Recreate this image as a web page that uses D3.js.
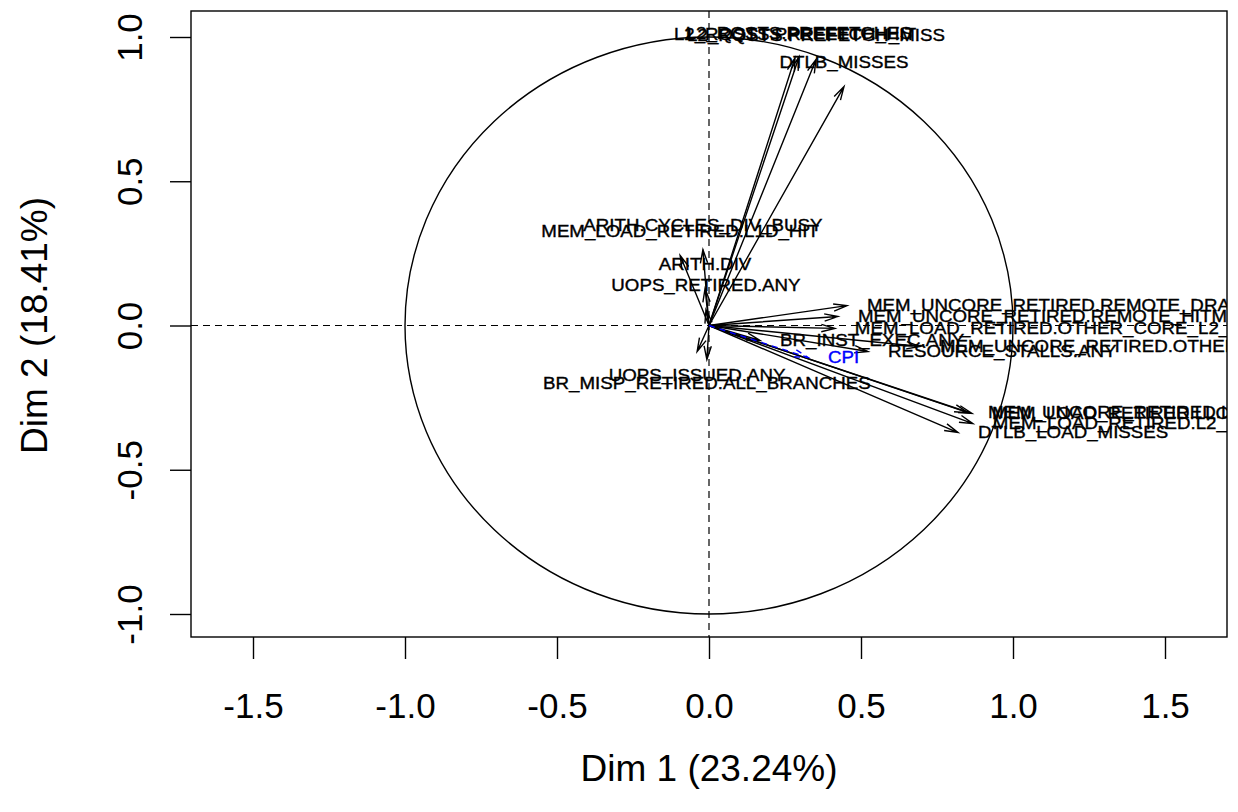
<!DOCTYPE html>
<html>
<head>
<meta charset="utf-8">
<script src="https://cdn.jsdelivr.net/npm/d3@7"></script>
<style>
  html, body { margin: 0; padding: 0; background: #fff; }
  svg { display: block; font-family: "Liberation Sans", Arial, Helvetica, sans-serif; }
</style>
</head>
<body>
<svg id="chart" width="1238" height="812"></svg>
<script>
// ---- data ----
const varNames = [
  "L2_RQSTS.PREFETCH_HIT",
  "L2_RQSTS.PREFETCHES",
  "L2_RQSTS.PREFETCH_MISS",
  "DTLB_MISSES",
  "ARITH.CYCLES_DIV_BUSY",
  "MEM_LOAD_RETIRED.L1D_HIT",
  "ARITH.DIV",
  "UOPS_RETIRED.ANY",
  "UOPS_ISSUED.ANY",
  "BR_MISP_RETIRED.ALL_BRANCHES",
  "MEM_UNCORE_RETIRED.REMOTE_DRAM",
  "MEM_UNCORE_RETIRED.REMOTE_HITM",
  "MEM_LOAD_RETIRED.OTHER_CORE_L2_HIT_HITM",
  "BR_INST_EXEC.ANY",
  "MEM_UNCORE_RETIRED.OTHER_CORE_L2_HITM",
  "RESOURCE_STALLS.ANY",
  "MEM_UNCORE_RETIRED.LOCAL_DRAM",
  "MEM_LOAD_RETIRED.LLC_MISS",
  "MEM_LOAD_RETIRED.L2_MISS",
  "DTLB_LOAD_MISSES"
];
const dim1 = [0.283, 0.296, 0.352, 0.444, -0.020, -0.095, -0.013, -0.010, -0.039, -0.007,
              0.454, 0.424, 0.414, 0.168, 0.694, 0.523, 0.852, 0.865, 0.868, 0.819];
const dim2 = [0.928, 0.931, 0.922, 0.828, 0.263, 0.243, 0.128, 0.055, -0.090, -0.118,
              0.069, 0.031, -0.010, -0.052, -0.073, -0.090, -0.302, -0.305, -0.340, -0.371];

const suppNames = ["CPI"];
const suppDim1 = [0.326];
const suppDim2 = [-0.111];

const xTicks = [-1.5, -1.0, -0.5, 0.0, 0.5, 1.0, 1.5];
const yTicks = [-1.0, -0.5, 0.0, 0.5, 1.0];
const xTitle = "Dim 1 (23.24%)";
const yTitle = "Dim 2 (18.41%)";

// ---- layout ----
const svg = d3.select("#chart");
const box = { left: 191, right: 1227, top: 11, bottom: 637 };
const x = d3.scaleLinear().domain([-1, 1]).range([405, 1013]);
const y = d3.scaleLinear().domain([-1, 1]).range([614, 37]);

const fmt = d => d.toFixed(1);
const tickFont = 35;
const titleFont = 37;

// clip for plot region
svg.append("defs").append("clipPath").attr("id", "plotclip")
  .append("rect")
  .attr("x", box.left).attr("y", box.top)
  .attr("width", box.right - box.left).attr("height", box.bottom - box.top);

// axes
const xAxis = svg.append("g")
  .attr("transform", `translate(0,${box.bottom})`)
  .call(d3.axisBottom(x).tickValues(xTicks).tickFormat(fmt).tickSize(22).tickSizeOuter(0));
xAxis.select(".domain").remove();
xAxis.selectAll(".tick line").attr("stroke", "#000").attr("stroke-width", 1.4);
xAxis.selectAll(".tick text")
  .attr("y", 81).attr("dy", null)
  .attr("font-size", tickFont).attr("fill", "#000")
  .attr("font-family", "Liberation Sans, Arial, sans-serif");

const yAxis = svg.append("g")
  .attr("transform", `translate(${box.left},0)`)
  .call(d3.axisLeft(y).tickValues(yTicks).tickFormat(fmt).tickSize(21).tickSizeOuter(0));
yAxis.select(".domain").remove();
yAxis.selectAll(".tick line").attr("stroke", "#000").attr("stroke-width", 1.4);
yAxis.selectAll(".tick text")
  .attr("x", null).attr("dy", null)
  .attr("text-anchor", "middle")
  .attr("transform", "translate(-49,0) rotate(-90)")
  .attr("font-size", tickFont).attr("fill", "#000")
  .attr("font-family", "Liberation Sans, Arial, sans-serif");

// axis titles
svg.append("text")
  .attr("x", x(0)).attr("y", 781)
  .attr("text-anchor", "middle")
  .attr("font-size", titleFont).attr("fill", "#000")
  .text(xTitle);
svg.append("text")
  .attr("transform", `translate(47,${y(0)}) rotate(-90)`)
  .attr("text-anchor", "middle")
  .attr("font-size", titleFont).attr("fill", "#000")
  .text(yTitle);

// plot content
const plot = svg.append("g").attr("clip-path", "url(#plotclip)");

// reference lines
plot.append("line")
  .attr("x1", box.left).attr("x2", box.right)
  .attr("y1", y(0)).attr("y2", y(0))
  .attr("stroke", "#000").attr("stroke-width", 1.2).attr("stroke-dasharray", "7,5");
plot.append("line")
  .attr("x1", x(0)).attr("x2", x(0))
  .attr("y1", box.top).attr("y2", box.bottom)
  .attr("stroke", "#000").attr("stroke-width", 1.2).attr("stroke-dasharray", "7,5");

// correlation circle
plot.append("ellipse")
  .attr("cx", x(0)).attr("cy", y(0))
  .attr("rx", x(1) - x(0)).attr("ry", y(0) - y(1))
  .attr("fill", "none").attr("stroke", "#000").attr("stroke-width", 1.4);

const vars = varNames.map((n, i) => ({ name: n, d1: dim1[i], d2: dim2[i], supp: false }));
const supps = suppNames.map((n, i) => ({ name: n, d1: suppDim1[i], d2: suppDim2[i], supp: true }));
const all = vars.concat(supps);

const headLen = 14, headAng = 15 * Math.PI / 180;
function arrowPath(d) {
  const x0 = x(0), y0 = y(0), x1 = x(d.d1), y1 = y(d.d2);
  const a = Math.atan2(y1 - y0, x1 - x0);
  const p = d3.path();
  p.moveTo(x0, y0); p.lineTo(x1, y1);
  p.moveTo(x1 - headLen * Math.cos(a - headAng), y1 - headLen * Math.sin(a - headAng));
  p.lineTo(x1, y1);
  p.lineTo(x1 - headLen * Math.cos(a + headAng), y1 - headLen * Math.sin(a + headAng));
  return p.toString();
}

plot.selectAll("path.arrow").data(all).enter().append("path")
  .attr("class", "arrow")
  .attr("d", arrowPath)
  .attr("fill", "none")
  .attr("stroke", d => d.supp ? "#0000ff" : "#000")
  .attr("stroke-width", 1.4)
  .attr("stroke-dasharray", d => d.supp ? "6,5" : null);

// label placement like FactoMineR (pos 1..4)
function posOf(d) {
  if (Math.abs(d.d1) > Math.abs(d.d2)) return d.d1 >= 0 ? 4 : 2;
  return d.d2 >= 0 ? 3 : 1;
}
const hOff = 20, vOff = 24, labelScale = 1.17;
plot.selectAll("text.lab").data(all).enter().append("text")
  .attr("class", "lab")
  .attr("font-size", 16)
  .attr("fill", d => d.supp ? "#0000ff" : "#000")
  .attr("stroke", d => d.supp ? "#0000ff" : "#000")
  .attr("stroke-width", 0.35)
  .attr("dy", "0.36em")
  .attr("text-anchor", d => { const p = posOf(d); return p === 4 ? "start" : p === 2 ? "end" : "middle"; })
  .attr("transform", d => {
    const p = posOf(d);
    let tx = x(d.d1), ty = y(d.d2);
    if (p === 4) tx += hOff;
    else if (p === 2) tx -= hOff;
    else if (p === 3) ty -= vOff;
    else ty += vOff;
    return `translate(${tx},${ty}) scale(${labelScale},1)`;
  })
  .text(d => d.name);

// frame
svg.append("rect")
  .attr("x", box.left).attr("y", box.top)
  .attr("width", box.right - box.left).attr("height", box.bottom - box.top)
  .attr("fill", "none").attr("stroke", "#000").attr("stroke-width", 1.4);
</script>
</body>
</html>
